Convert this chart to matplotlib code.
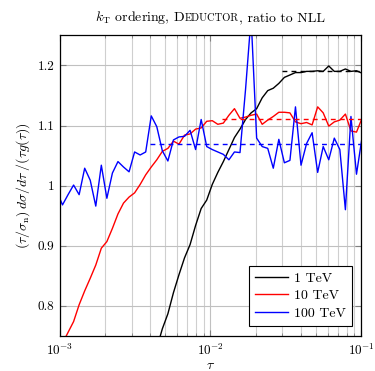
import numpy as np
import matplotlib
matplotlib.use("Agg")
import matplotlib.pyplot as plt
from matplotlib.ticker import LogLocator, FixedLocator, FixedFormatter, NullFormatter

plt.rcParams['font.family'] = 'serif'
plt.rcParams['font.serif'] = ['cmr10', 'DejaVu Serif']
plt.rcParams['mathtext.fontset'] = 'cm'
plt.rcParams['axes.unicode_minus'] = False
plt.rcParams['axes.formatter.use_mathtext'] = True

# bin centres in tau (log spaced)
tau = np.logspace(-3.017, -3.017 + 0.03676 * 55, 56)

ratio_100tev = [0.990, 0.968, 0.985, 1.001, 0.985, 1.029, 1.009, 0.966, 1.034, 0.979,
                1.021, 1.040, 1.031, 1.023, 1.056, 1.051, 1.056, 1.116, 1.098, 1.058,
                1.041, 1.076, 1.081, 1.082, 1.092, 1.060, 1.110, 1.065, 1.060, 1.056,
                1.052, 1.043, 1.056, 1.055, 1.160, 1.280, 1.079, 1.065, 1.062, 1.029,
                1.077, 1.038, 1.042, 1.131, 1.034, 1.070, 1.088, 1.022, 1.065, 1.043,
                1.079, 1.060, 0.960, 1.115, 1.019, 1.080]

ratio_10tev = [0.720, 0.738, 0.756, 0.774, 0.802, 0.825, 0.846, 0.868, 0.896, 0.907,
               0.929, 0.953, 0.971, 0.981, 0.988, 1.002, 1.018, 1.031, 1.043, 1.057,
               1.062, 1.074, 1.069, 1.084, 1.086, 1.094, 1.096, 1.107, 1.108, 1.102,
               1.104, 1.117, 1.128, 1.112, 1.114, 1.117, 1.119, 1.102, 1.109, 1.115,
               1.122, 1.122, 1.121, 1.106, 1.103, 1.105, 1.101, 1.131, 1.121, 1.099,
               1.106, 1.109, 1.119, 1.091, 1.089, 1.112]

# 1 TeV only visible from bin 17 onwards
BLACK_START = 17
ratio_1tev = [0.700, 0.730, 0.762, 0.787, 0.822, 0.852, 0.880, 0.902, 0.934, 0.962,
              0.976, 1.002, 1.022, 1.040, 1.060, 1.080, 1.094, 1.110, 1.121, 1.128,
              1.146, 1.158, 1.162, 1.170, 1.180, 1.184, 1.188, 1.188, 1.190, 1.190,
              1.191, 1.190, 1.199, 1.190, 1.190, 1.194, 1.190, 1.191, 1.187]

# constant fits (level, tau range)
fit_1tev = (1.19, 0.03, 0.1)
fit_10tev = (1.11, 0.012, 0.1)
fit_100tev = (1.07, 0.004, 0.1)

yticks = [0.8, 0.9, 1.0, 1.1, 1.2]
ytick_labels = ['0.8', '0.9', '1', '1.1', '1.2']

fig = plt.figure(figsize=(3.75, 3.71), dpi=100)
ax = fig.add_axes([0.1587, 0.0943, 0.8048, 0.8106])

ax.plot(tau[BLACK_START:], ratio_1tev, color='black', lw=1.0, label='1 TeV')
ax.plot(tau, ratio_10tev, color='red', lw=1.0, label='10 TeV')
ax.plot(tau, ratio_100tev, color='blue', lw=1.0, label='100 TeV')

for (lvl, t0, t1), c in [(fit_1tev, 'black'), (fit_10tev, 'red'), (fit_100tev, 'blue')]:
    ax.plot([t0, t1], [lvl, lvl], color=c, lw=1.0, ls=(0, (3.5, 3)))

ax.set_xscale('log')
ax.set_xlim(1e-3, 1e-1)
ax.set_ylim(0.75, 1.25)
ax.xaxis.set_major_locator(LogLocator(base=10, numticks=10))
ax.xaxis.set_minor_locator(LogLocator(base=10, subs=np.arange(2, 10), numticks=20))
ax.xaxis.set_minor_formatter(NullFormatter())
ax.yaxis.set_major_locator(FixedLocator(yticks))
ax.yaxis.set_major_formatter(FixedFormatter(ytick_labels))

ax.grid(True, which='major', color='#c0c0c0', lw=0.8)
ax.grid(True, which='minor', axis='x', color='#cfcfcf', lw=0.8)
ax.set_axisbelow(True)
ax.tick_params(which='both', direction='in', top=True, right=True, labelsize=9.5, color='#808080')
ax.tick_params(which='major', length=4)
ax.tick_params(which='minor', length=2)
ax.tick_params(axis='x', pad=5)
for s in ax.spines.values():
    s.set_linewidth(0.9)

ax.set_xlabel(r'$\tau$', fontsize=10, labelpad=1)
ax.set_ylabel(r'$(\tau/\sigma_\mathrm{n})\,d\sigma/d\tau\;/(\tau g(\tau))$', fontsize=10, labelpad=4)

leg = ax.legend(loc='lower right', bbox_to_anchor=(0.969, 0.033), borderaxespad=0,
                fontsize=10, fancybox=False, framealpha=1, edgecolor='black',
                handlelength=2.4, handletextpad=0.4, borderpad=0.45, labelspacing=0.35)
leg.get_frame().set_linewidth(0.8)

# title with small caps "Deductor"
pieces = [(r'$k_\mathrm{T}$ ordering, D', 10), ('EDUCTOR', 7.6), (', ratio to NLL', 10)]
renderer = fig.canvas.get_renderer()
texts = []
for s, sz in pieces:
    texts.append(fig.text(0, 0.943, s, fontsize=sz, va='baseline', ha='left'))
widths = [t.get_window_extent(renderer).width for t in texts]
total = sum(widths)
x = 210 - total / 2
for t, w in zip(texts, widths):
    t.set_x(x / 375)
    x += w

fig.savefig('out.png', dpi=100)
